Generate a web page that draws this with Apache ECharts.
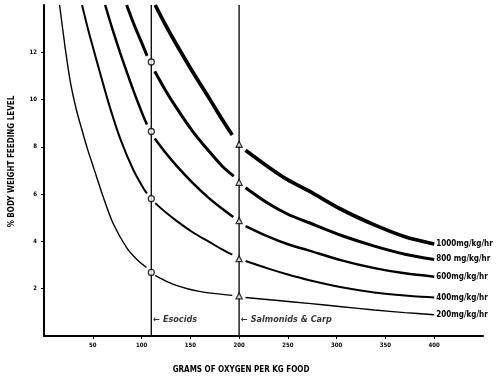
<!DOCTYPE html>
<html>
<head>
<meta charset="utf-8">
<script src="https://cdn.jsdelivr.net/npm/echarts@6/dist/echarts.min.js"></script>
<style>html,body{margin:0;padding:0;background:#fff}#c{width:500px;height:379px}</style>
</head>
<body>
<div id="c"></div>
<script>
// ---- data ----
const seriesNames = ['200mg/kg/hr', '400mg/kg/hr', '600mg/kg/hr', '800 mg/kg/hr', '1000mg/kg/hr'];
const GAP = ['-', '-'];
const curve200 = [[16,14],[22,12.1],[27,10.75],[33,9.6],[39,8.7],[45,7.85],[51,7.1],[61,5.85],[71,4.75],[85,3.72],[95,3.25],[105,2.9], GAP,
  [114,2.56],[125,2.32],[135.5,2.14],[147,2.0],[159,1.89],[176,1.79],[193,1.72], GAP,
  [206.6,1.63],[240,1.50],[271,1.38],[305,1.24],[338.7,1.10],[370,0.99],[400,0.90]];
const curve400 = [[39,14],[45,13.0],[50.8,12.12],[59,10.9],[67.8,9.64],[79,8.25],[91.5,7.03],[101.6,6.27],[105.5,6.03], GAP,
  [114,5.62],[125,5.22],[135.5,4.88],[152,4.4],[169.4,3.98],[181,3.70],[193,3.44], GAP,
  [206.6,3.17],[230,2.85],[250,2.6],[271,2.37],[305,2.06],[338.7,1.84],[370,1.71],[400,1.63]];
const curve600 = [[62.7,14],[70,13.0],[77.9,12.0],[85,11.15],[91.5,10.4],[97,9.8],[101,9.38],[105.5,8.95], GAP,
  [113.5,8.35],[124,7.78],[135.5,7.22],[152.4,6.48],[169.4,5.82],[182,5.4],[194,5.03], GAP,
  [206.6,4.65],[230,4.2],[250,3.88],[271,3.62],[305,3.2],[338.7,2.87],[370,2.65],[400,2.51]];
const curve800 = [[84.7,14],[93,13.1],[101.6,12.26],[105.7,11.85], GAP,
  [113.5,11.2],[124,10.43],[135.5,9.67],[152,8.68],[169.4,7.8],[183,7.17],[194.5,6.76], GAP,
  [206.6,6.27],[230,5.6],[250,5.15],[271,4.8],[305,4.25],[338.7,3.8],[370,3.46],[400,3.24]];
const curve1000 = [[114,14],[124,13.2],[135.5,12.35],[152,11.2],[169.4,10.05],[182,9.2],[193,8.5], GAP,
  [206.6,7.86],[230,7.15],[250,6.6],[271,6.15],[305,5.35],[338.7,4.7],[370,4.2],[400,3.89]];
const esocidsX = 110;
const salmonidsX = 200;
const esocidsMarks = [2.69, 5.81, 8.65, 11.59];
const salmonidsMarks = [1.70, 3.27, 4.88, 6.50, 8.11];
const xTickValues = [50, 100, 150, 200, 250, 300, 350, 400];
const yTickValues = [2, 4, 6, 8, 10, 12];
const xTitle = 'GRAMS OF OXYGEN PER KG FOOD';
const yTitle = '% BODY WEIGHT FEEDING LEVEL';
const esocidsText = '← Esocids';
const salmonidsText = '← Salmonids & Carp';
const labelY = 0.68;

// ---- chart ----
const FONT = '"DejaVu Sans Condensed", "DejaVu Sans", sans-serif';
const curves = [curve200, curve400, curve600, curve800, curve1000];
const widths = [1.4, 2.0, 2.5, 3.0, 3.7];

const series = curves.map((c, i) => ({
  type: 'line', name: seriesNames[i],
  data: c,
  showSymbol: false, symbol: 'none',
  smooth: 0.3, connectNulls: false,
  lineStyle: { color: '#000', width: widths[i] },
  endLabel: {
    show: true, formatter: seriesNames[i], distance: 2,
    fontFamily: FONT, fontWeight: 'bold', fontSize: 8, color: '#000'
  },
  clip: true, z: 3, silent: true
}));

series.push({
  type: 'line', data: [[esocidsX, 0], [esocidsX, 14]], symbol: 'none',
  lineStyle: { color: '#111', width: 1.4 }, z: 2, silent: true
});
series.push({
  type: 'line', data: [[salmonidsX, 0], [salmonidsX, 14]], symbol: 'none',
  lineStyle: { color: '#111', width: 1.4 }, z: 2, silent: true
});
series.push({
  type: 'scatter', symbol: 'circle', symbolSize: 6,
  data: esocidsMarks.map(v => [esocidsX, v]),
  itemStyle: { color: '#fff', borderColor: '#000', borderWidth: 1.3 }, z: 5, silent: true
});
series.push({
  type: 'scatter', symbol: 'triangle', symbolSize: 6,
  data: salmonidsMarks.map(v => [salmonidsX, v]),
  itemStyle: { color: '#fff', borderColor: '#000', borderWidth: 1.3 }, z: 5, silent: true
});
series.push({
  type: 'scatter', symbolSize: 0,
  data: [
    { value: [esocidsX, labelY], label: { formatter: esocidsText } },
    { value: [salmonidsX, labelY], label: { formatter: salmonidsText } }
  ],
  label: {
    show: true, position: 'right', distance: 2,
    fontFamily: FONT, fontWeight: 'bold', fontStyle: 'italic', fontSize: 9, color: '#000'
  },
  z: 4, silent: true
});

const chart = echarts.init(document.getElementById('c'), null, { renderer: 'canvas' });
chart.setOption({
  animation: false,
  backgroundColor: '#fff',
  grid: { left: 40, right: 17, top: 5, bottom: 36, containLabel: false },
  xAxis: {
    type: 'value', min: 0, max: 450, interval: 50,
    name: xTitle, nameLocation: 'middle', nameGap: 30,
    nameTextStyle: { fontFamily: FONT, fontWeight: 'bold', fontSize: 8, color: '#000', padding: [0, 45, 0, 0] },
    axisLine: { show: true, onZero: false, lineStyle: { color: '#000', width: 2 } },
    axisTick: { show: true, length: 3, inside: false, customValues: xTickValues, lineStyle: { color: '#000', width: 1 } },
    axisLabel: { customValues: xTickValues, margin: 6, fontFamily: FONT, fontWeight: 'bold', fontSize: 6, color: '#000' },
    splitLine: { show: false }
  },
  yAxis: {
    type: 'value', min: 0, max: 14, interval: 2,
    name: yTitle, nameLocation: 'middle', nameGap: 28, nameRotate: 90,
    nameTextStyle: { fontFamily: FONT, fontWeight: 'bold', fontSize: 8, color: '#000', padding: [0, 0, 0, 18] },
    axisLine: { show: true, onZero: false, lineStyle: { color: '#000', width: 2 } },
    axisTick: { show: true, length: 3, inside: false, customValues: yTickValues, lineStyle: { color: '#000', width: 1 } },
    axisLabel: { customValues: yTickValues, margin: 7, fontFamily: FONT, fontWeight: 'bold', fontSize: 6, color: '#000' },
    splitLine: { show: false }
  },
  series: series
});
</script>
</body>
</html>
